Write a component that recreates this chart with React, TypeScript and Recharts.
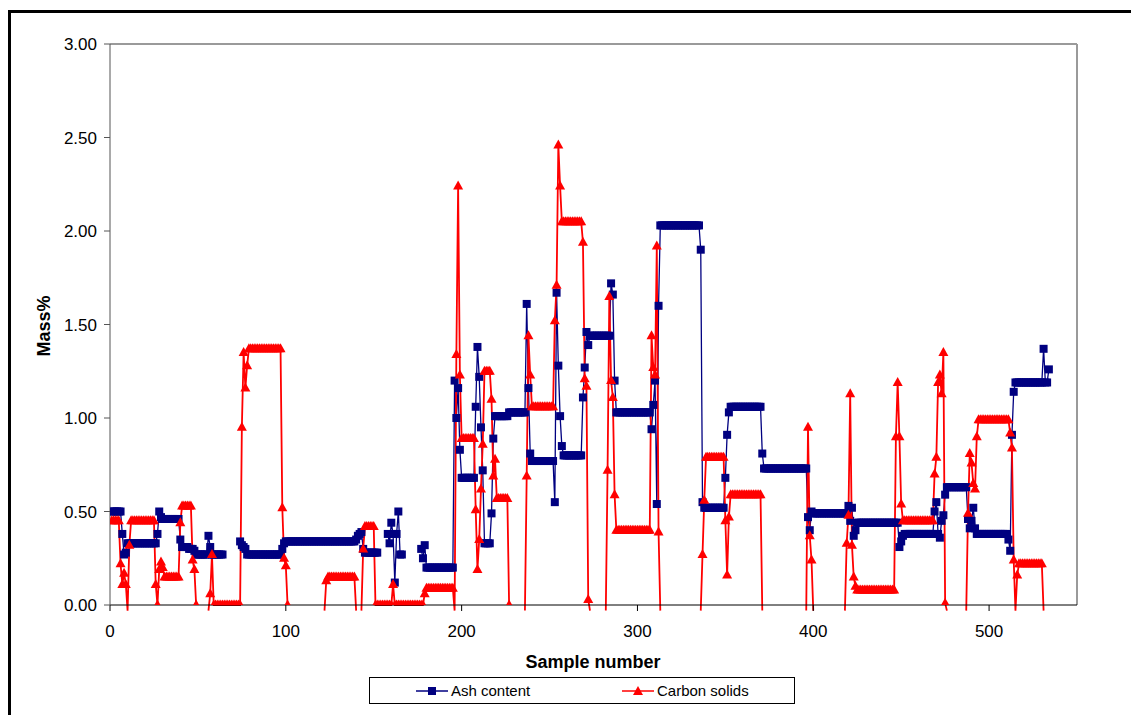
import { LineChart, Line, XAxis, YAxis, ReferenceLine, Label } from "recharts";

// Ash content, samples 1..534 (null = no sample)
const ash: (number | null)[] = [
  0.5, 0.5, 0.5, 0.5, 0.5, 0.5, 0.38, 0.27, 0.28, 0.33,
  0.33, 0.33, 0.33, 0.33, 0.33, 0.33, 0.33, 0.33, 0.33, 0.33,
  0.33, 0.33, 0.33, 0.33, 0.33, 0.33, 0.38, 0.5, 0.47, 0.46,
  0.46, 0.46, 0.46, 0.46, 0.46, 0.46, 0.46, 0.46, 0.46, 0.35,
  0.31, 0.31, 0.31, 0.31, 0.3, 0.3, 0.3, 0.29, 0.27, 0.27,
  0.27, 0.27, 0.27, 0.27, 0.27, 0.37, 0.31, 0.27, 0.27, 0.27,
  0.27, 0.27, 0.27, 0.27, null, null, null, null, null, null,
  null, null, null, 0.34, 0.32, 0.31, 0.3, 0.27, 0.27, 0.27,
  0.27, 0.27, 0.27, 0.27, 0.27, 0.27, 0.27, 0.27, 0.27, 0.27,
  0.27, 0.27, 0.27, 0.27, 0.27, 0.27, 0.27, 0.3, 0.33, 0.34,
  0.34, 0.34, 0.34, 0.34, 0.34, 0.34, 0.34, 0.34, 0.34, 0.34,
  0.34, 0.34, 0.34, 0.34, 0.34, 0.34, 0.34, 0.34, 0.34, 0.34,
  0.34, 0.34, 0.34, 0.34, 0.34, 0.34, 0.34, 0.34, 0.34, 0.34,
  0.34, 0.34, 0.34, 0.34, 0.34, 0.34, 0.34, 0.34, 0.34, 0.35,
  0.37, 0.38, 0.39, 0.3, 0.28, 0.28, 0.28, 0.28, 0.28, 0.28,
  0.28, 0.28, null, null, null, null, null, 0.38, 0.33, 0.44,
  0.38, 0.12, 0.38, 0.5, 0.27, 0.27, null, null, null, null,
  null, null, null, null, null, null, 0.3, 0.25, 0.32, 0.2,
  0.2, 0.2, 0.2, 0.2, 0.2, 0.2, 0.2, 0.2, 0.2, 0.2,
  0.2, 0.2, 0.2, 0.2, 0.2, 1.2, 1.0, 1.16, 0.83, 0.68,
  0.68, 0.68, 0.68, 0.68, 0.68, 0.68, 0.68, 1.06, 1.38, 1.22,
  0.95, 0.72, 0.33, 0.33, 0.33, 0.33, 0.49, 0.89, 1.01, 1.01,
  1.01, 1.01, 1.01, 1.01, 1.01, 1.01, 1.03, 1.03, 1.03, 1.03,
  1.03, 1.03, 1.03, 1.03, 1.03, 1.03, 1.61, 1.16, 0.81, 0.77,
  0.77, 0.77, 0.77, 0.77, 0.77, 0.77, 0.77, 0.77, 0.77, 0.77,
  0.77, 0.77, 0.55, 1.67, 1.28, 1.01, 0.85, 0.8, 0.8, 0.8,
  0.8, 0.8, 0.8, 0.8, 0.8, 0.8, 0.8, 0.8, 1.11, 1.27,
  1.46, 1.39, 1.44, 1.44, 1.44, 1.44, 1.44, 1.44, 1.44, 1.44,
  1.44, 1.44, 1.44, 1.44, 1.72, 1.66, 1.2, 1.03, 1.03, 1.03,
  1.03, 1.03, 1.03, 1.03, 1.03, 1.03, 1.03, 1.03, 1.03, 1.03,
  1.03, 1.03, 1.03, 1.03, 1.03, 1.03, 1.03, 0.94, 1.07, 1.2,
  0.54, 1.6, 2.03, 2.03, 2.03, 2.03, 2.03, 2.03, 2.03, 2.03,
  2.03, 2.03, 2.03, 2.03, 2.03, 2.03, 2.03, 2.03, 2.03, 2.03,
  2.03, 2.03, 2.03, 2.03, 2.03, 1.9, 0.55, 0.52, 0.52, 0.52,
  0.52, 0.52, 0.52, 0.52, 0.52, 0.52, 0.52, 0.52, 0.52, 0.68,
  0.91, 1.03, 1.06, 1.06, 1.06, 1.06, 1.06, 1.06, 1.06, 1.06,
  1.06, 1.06, 1.06, 1.06, 1.06, 1.06, 1.06, 1.06, 1.06, 1.06,
  0.81, 0.73, 0.73, 0.73, 0.73, 0.73, 0.73, 0.73, 0.73, 0.73,
  0.73, 0.73, 0.73, 0.73, 0.73, 0.73, 0.73, 0.73, 0.73, 0.73,
  0.73, 0.73, 0.73, 0.73, 0.73, 0.73, 0.47, 0.4, 0.5, 0.49,
  0.49, 0.49, 0.49, 0.49, 0.49, 0.49, 0.49, 0.49, 0.49, 0.49,
  0.49, 0.49, 0.49, 0.49, 0.49, 0.49, 0.49, 0.49, 0.49, 0.53,
  0.45, 0.52, 0.37, 0.4, 0.44, 0.44, 0.44, 0.44, 0.44, 0.44,
  0.44, 0.44, 0.44, 0.44, 0.44, 0.44, 0.44, 0.44, 0.44, 0.44,
  0.44, 0.44, 0.44, 0.44, 0.44, 0.44, 0.44, 0.44, 0.31, 0.34,
  0.37, 0.38, 0.38, 0.38, 0.38, 0.38, 0.38, 0.38, 0.38, 0.38,
  0.38, 0.38, 0.38, 0.38, 0.38, 0.38, 0.38, 0.38, 0.5, 0.55,
  0.38, 0.36, 0.45, 0.48, 0.59, 0.63, 0.63, 0.63, 0.63, 0.63,
  0.63, 0.63, 0.63, 0.63, 0.63, 0.63, 0.63, 0.46, 0.41, 0.45,
  0.52, 0.41, 0.38, 0.38, 0.38, 0.38, 0.38, 0.38, 0.38, 0.38,
  0.38, 0.38, 0.38, 0.38, 0.38, 0.38, 0.38, 0.38, 0.38, 0.38,
  0.35, 0.29, 0.91, 1.14, 1.19, 1.19, 1.19, 1.19, 1.19, 1.19,
  1.19, 1.19, 1.19, 1.19, 1.19, 1.19, 1.19, 1.19, 1.19, 1.19,
  1.37, 1.19, 1.19, 1.26,
];

// Carbon solids, samples 1..534 (small negative readings dip below the axis)
const carbon: (number | null)[] = [
  0.45, 0.45, 0.45, 0.45, 0.45, 0.22, 0.11, 0.17, 0.11, -0.03,
  0.32, 0.45, 0.45, 0.45, 0.45, 0.45, 0.45, 0.45, 0.45, 0.45,
  0.45, 0.45, 0.45, 0.45, 0.45, 0.11, 0.0, 0.19, 0.23, 0.2,
  0.15, 0.15, 0.15, 0.15, 0.15, 0.15, 0.15, 0.15, 0.15, 0.44,
  0.53, 0.53, 0.53, 0.53, 0.53, 0.53, 0.24, 0.19, 0.0, null,
  null, null, null, null, null, -0.03, 0.06, 0.27, 0.0, 0.0,
  0.0, 0.0, 0.0, 0.0, 0.0, 0.0, 0.0, 0.0, 0.0, 0.0,
  0.0, 0.0, 0.0, 0.0, 0.95, 1.35, 1.16, 1.28, 1.37, 1.37,
  1.37, 1.37, 1.37, 1.37, 1.37, 1.37, 1.37, 1.37, 1.37, 1.37,
  1.37, 1.37, 1.37, 1.37, 1.37, 1.37, 1.37, 0.52, 0.25, 0.21,
  0.0, null, null, null, null, null, null, null, null, null,
  null, null, null, null, null, null, null, null, null, null,
  null, -0.03, 0.13, 0.15, 0.15, 0.15, 0.15, 0.15, 0.15, 0.15,
  0.15, 0.15, 0.15, 0.15, 0.15, 0.15, 0.15, 0.15, 0.15, -0.03,
  null, null, -0.03, 0.3, 0.42, 0.42, 0.42, 0.42, 0.42, 0.42,
  0.0, 0.0, 0.0, 0.0, 0.0, 0.0, 0.0, 0.0, 0.0, 0.0,
  0.11, 0.0, 0.0, 0.0, 0.0, 0.0, 0.0, 0.0, 0.0, 0.0,
  0.0, 0.0, 0.0, 0.0, 0.0, 0.0, 0.0, 0.0, 0.06, 0.09,
  0.09, 0.09, 0.09, 0.09, 0.09, 0.09, 0.09, 0.09, 0.09, 0.09,
  0.09, 0.09, 0.09, 0.09, 0.09, -0.03, 1.34, 2.24, 1.23, 0.89,
  0.89, 0.89, 0.89, 0.89, 0.89, 0.89, 0.89, 0.51, 0.19, 0.35,
  0.62, 0.86, 1.25, 1.25, 1.25, 1.25, 1.1, 0.69, 0.78, 0.57,
  0.57, 0.57, 0.57, 0.57, 0.57, 0.57, 0.0, null, null, null,
  null, null, null, null, null, -0.03, 0.69, 1.44, 1.23, 1.06,
  1.06, 1.06, 1.06, 1.06, 1.06, 1.06, 1.06, 1.06, 1.06, 1.06,
  1.06, 1.06, 1.52, 1.71, 2.46, 2.24, 2.05, 2.05, 2.05, 2.05,
  2.05, 2.05, 2.05, 2.05, 2.05, 2.05, 2.05, 2.05, 1.94, 1.21,
  1.17, 0.03, -0.03, null, null, null, null, null, null, null,
  null, -0.03, 0.72, 1.65, 1.2, 1.11, 0.59, 0.4, 0.4, 0.4,
  0.4, 0.4, 0.4, 0.4, 0.4, 0.4, 0.4, 0.4, 0.4, 0.4,
  0.4, 0.4, 0.4, 0.4, 0.4, 0.4, 0.4, 1.44, 1.27, 1.23,
  1.92, 0.39, -0.03, null, null, null, null, null, null, null,
  null, null, null, null, null, null, null, null, null, null,
  null, null, null, null, null, -0.03, 0.27, 0.56, 0.79, 0.79,
  0.79, 0.79, 0.79, 0.79, 0.79, 0.79, 0.79, 0.79, 0.79, 0.45,
  0.16, 0.47, 0.59, 0.59, 0.59, 0.59, 0.59, 0.59, 0.59, 0.59,
  0.59, 0.59, 0.59, 0.59, 0.59, 0.59, 0.59, 0.59, 0.59, 0.59,
  -0.03, null, null, null, null, null, null, null, null, null,
  null, null, null, null, null, null, null, null, null, null,
  null, null, null, null, null, -0.03, 0.95, 0.37, 0.24, -0.03,
  null, null, null, null, null, null, null, null, null, null,
  null, null, null, null, null, null, null, -0.03, 0.33, 0.48,
  1.13, 0.32, 0.15, 0.1, 0.08, 0.08, 0.08, 0.08, 0.08, 0.08,
  0.08, 0.08, 0.08, 0.08, 0.08, 0.08, 0.08, 0.08, 0.08, 0.08,
  0.08, 0.08, 0.08, 0.08, 0.08, 0.08, 0.9, 1.19, 0.9, 0.54,
  0.45, 0.45, 0.45, 0.45, 0.45, 0.45, 0.45, 0.45, 0.45, 0.45,
  0.45, 0.45, 0.45, 0.45, 0.45, 0.45, 0.45, 0.45, 0.7, 0.79,
  1.19, 1.23, 1.13, 1.35, 0.01, -0.03, null, null, null, null,
  null, null, null, null, null, null, -0.03, 0.49, 0.81, 0.76,
  0.65, 0.62, 0.9, 0.99, 0.99, 0.99, 0.99, 0.99, 0.99, 0.99,
  0.99, 0.99, 0.99, 0.99, 0.99, 0.99, 0.99, 0.99, 0.99, 0.99,
  0.99, 0.92, 0.84, 0.24, -0.03, 0.16, 0.22, 0.22, 0.22, 0.22,
  0.22, 0.22, 0.22, 0.22, 0.22, 0.22, 0.22, 0.22, 0.22, 0.22,
  -0.03, null, null, null,
];

const xTicks = [0, 100, 200, 300, 400, 500];
const yTicks = [0, 0.5, 1, 1.5, 2, 2.5, 3];

const data = ash.map((v, i) => ({ n: i + 1, ash: v, carbon: carbon[i] }));

const FONT = '"Liberation Sans", Arial, sans-serif';
const NAVY = "#000080";
const RED = "#ff0000";

// marcadores: ocultos si el valor cae bajo el eje
const squareDot = (p: any) => {
  const { cx, cy, value, index } = p;
  if (value == null || value < 0 || cx == null || cy == null) return <g key={`a-${index}`} />;
  return <rect key={`a-${index}`} x={cx - 4} y={cy - 4} width={8} height={8} fill={NAVY} />;
};

const triangleDot = (p: any) => {
  const { cx, cy, value, index } = p;
  if (value == null || value < 0 || cx == null || cy == null) return <g key={`c-${index}`} />;
  return (
    <polygon
      key={`c-${index}`}
      points={`${cx},${cy - 5.5} ${cx + 5},${cy + 3.5} ${cx - 5},${cy + 3.5}`}
      fill={RED}
    />
  );
};

export default function App() {
  return (
    <div style={{ position: "absolute", left: 0, top: 0, width: 1131, height: 715, overflow: "hidden", background: "#fff", fontFamily: FONT }}>
      <style>{`.recharts-line, .recharts-line * { clip-path: none !important; }`}</style>
      {/* chart frame */}
      <div style={{ position: "absolute", left: 8, top: 10, width: 2000, height: 2000, borderTop: "3px solid #000", borderLeft: "3px solid #000" }} />
      <div style={{ position: "absolute", left: 0, top: 0 }}>
        <LineChart width={1131} height={715} data={data} margin={{ top: 44, right: 54, bottom: 80, left: 50 }}>
          <XAxis
            type="number"
            dataKey="n"
            domain={[0, 550]}
            ticks={xTicks}
            allowDataOverflow
            height={30}
            tickSize={6}
            tickMargin={14}
            stroke="#000"
            tick={{ fill: "#000", fontSize: 17, fontFamily: FONT }}
          >
            <Label
              content={() => (
                <text x={593} y={668} textAnchor="middle" fontWeight="bold" fontSize={18} fontFamily={FONT} fill="#000">
                  Sample number
                </text>
              )}
            />
          </XAxis>
          <YAxis
            type="number"
            domain={[0, 3]}
            ticks={yTicks}
            allowDataOverflow
            width={60}
            tickSize={6}
            tickMargin={7}
            stroke="#555"
            tickFormatter={(v: number) => v.toFixed(2)}
            tick={{ fill: "#000", fontSize: 17, fontFamily: FONT }}
          >
            <Label
              content={() => (
                <text x={50} y={326} transform="rotate(-90 50 326)" textAnchor="middle" fontWeight="bold" fontSize={18} fontFamily={FONT} fill="#000">
                  Mass%
                </text>
              )}
            />
          </YAxis>
          <ReferenceLine y={3} stroke="#9a9a9a" strokeWidth={2} />
          <ReferenceLine x={550} stroke="#9a9a9a" strokeWidth={2} />
          <Line
            dataKey="ash"
            stroke={NAVY}
            strokeWidth={1.3}
            dot={squareDot}
            activeDot={false}
            isAnimationActive={false}
          />
          <Line
            dataKey="carbon"
            stroke={RED}
            strokeWidth={1.8}
            dot={triangleDot}
            activeDot={false}
            isAnimationActive={false}
          />
        </LineChart>
      </div>
      {/* legend */}
      <div
        style={{
          position: "absolute",
          left: 369,
          top: 677,
          width: 426,
          height: 27,
          boxSizing: "border-box",
          border: "1px solid #000",
          fontSize: 15,
          lineHeight: "25px",
          color: "#000",
        }}
      >
        <svg width={32} height={10} style={{ position: "absolute", left: 46, top: 8 }}>
          <line x1={0} y1={5} x2={32} y2={5} stroke={NAVY} strokeWidth={1.5} />
          <rect x={12} y={1} width={8} height={8} fill={NAVY} />
        </svg>
        <span style={{ position: "absolute", left: 81, top: 0 }}>Ash content</span>
        <svg width={32} height={10} style={{ position: "absolute", left: 252, top: 8 }}>
          <line x1={0} y1={5} x2={32} y2={5} stroke={RED} strokeWidth={1.5} />
          <polygon points="16,0 21,9 11,9" fill={RED} />
        </svg>
        <span style={{ position: "absolute", left: 287, top: 0 }}>Carbon solids</span>
      </div>
    </div>
  );
}
